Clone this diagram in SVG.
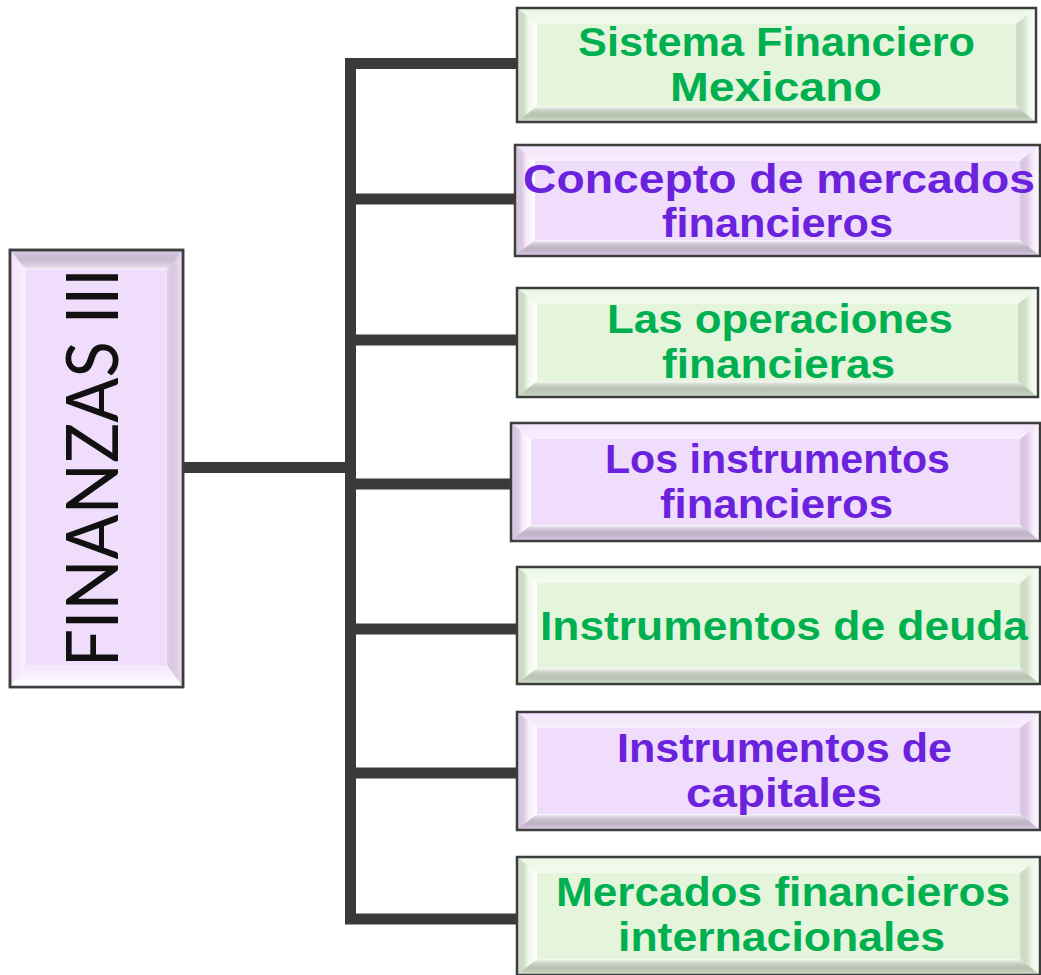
<svg xmlns="http://www.w3.org/2000/svg" width="1041" height="975" viewBox="0 0 1041 975">
<defs>
<linearGradient id="gL" x1="0" y1="0" x2="1" y2="0"><stop offset="0" stop-color="#000" stop-opacity="0.05"/><stop offset="0.55" stop-color="#fff" stop-opacity="0.4"/><stop offset="1" stop-color="#fff" stop-opacity="1"/></linearGradient>
<linearGradient id="gR" x1="0" y1="0" x2="1" y2="0"><stop offset="0" stop-color="#000" stop-opacity="0.09"/><stop offset="0.6" stop-color="#fff" stop-opacity="0.3"/><stop offset="1" stop-color="#fff" stop-opacity="0.95"/></linearGradient>
<linearGradient id="gT" x1="0" y1="0" x2="0" y2="1"><stop offset="0" stop-color="#fff" stop-opacity="0.2"/><stop offset="1" stop-color="#fff" stop-opacity="0.55"/></linearGradient>
<linearGradient id="gB" x1="0" y1="0" x2="0" y2="1"><stop offset="0" stop-color="#fff" stop-opacity="0.8"/><stop offset="1" stop-color="#000" stop-opacity="0.03"/></linearGradient>
<linearGradient id="gRootT" x1="0" y1="0" x2="0" y2="1"><stop offset="0" stop-color="#000" stop-opacity="0.04"/><stop offset="1" stop-color="#fff" stop-opacity="0.6"/></linearGradient>
<linearGradient id="gRootB" x1="0" y1="0" x2="0" y2="1"><stop offset="0" stop-color="#fff" stop-opacity="0.3"/><stop offset="1" stop-color="#fff" stop-opacity="0.95"/></linearGradient>
<linearGradient id="gRootL" x1="0" y1="0" x2="1" y2="0"><stop offset="0" stop-color="#fff" stop-opacity="0.2"/><stop offset="1" stop-color="#fff" stop-opacity="0.5"/></linearGradient>
<linearGradient id="gRootR" x1="0" y1="0" x2="1" y2="0"><stop offset="0" stop-color="#000" stop-opacity="0.06"/><stop offset="1" stop-color="#fff" stop-opacity="0.3"/></linearGradient>
</defs>
<style>
.green{fill:#e5f5dc}
.purple{fill:#f0dcfb}
.frame{stroke:#3d3d3d;stroke-width:2.5}
.bl{fill:url(#gL)}
.br{fill:url(#gR)}
.bt{fill:url(#gT)}
.bb{fill:url(#gB)}
.lbl{font-family:"Liberation Sans",Arial,sans-serif;font-weight:bold;font-size:41px;text-anchor:middle}
.tg{fill:#00b050}
.tp{fill:#6b22dc}
.conn{fill:none;stroke:#3a3a3a;stroke-width:11;stroke-linejoin:miter;stroke-linecap:butt}
.root{font-family:Lato,"Liberation Sans",sans-serif;font-weight:400;font-size:71px;fill:#111;text-anchor:middle}
</style>
<rect width="1041" height="975" fill="#fff"/>
<g id="connectors">
<path class="conn" d="M517,63.5 H350.5 V919 H517"/>
<path class="conn" d="M350,199 H515"/>
<path class="conn" d="M350,340 H517"/>
<path class="conn" d="M350,484 H511"/>
<path class="conn" d="M350,629 H517"/>
<path class="conn" d="M350,773 H517"/>
<path class="conn" d="M183,467.5 H356"/>
</g>
<g id="root">
<rect class="purple frame" x="10" y="250" width="173" height="437"/>
<polygon fill="url(#gRootT)" points="10,250 183,250 167,270 26,270"/>
<polygon fill="url(#gRootB)" points="10,687 26,665 167,665 183,687"/>
<polygon fill="url(#gRootL)" points="10,250 26,270 26,665 10,687"/>
<polygon fill="url(#gRootR)" points="167,270 183,250 183,687 167,665"/>
<rect fill="none" class="frame" x="10" y="250" width="173" height="437"/>
<text class="root" transform="translate(118,467.5) rotate(-90)" textLength="399" lengthAdjust="spacingAndGlyphs">FINANZAS III</text>
</g>
<g id="n1">
<rect class="green" x="517" y="8" width="519" height="114"/>
<polygon class="bl" points="517,8 537,24 537,106 517,122"/>
<polygon class="bt" points="517,8 1036,8 1016,24 537,24"/>
<polygon class="br" points="1016,24 1036,8 1036,122 1016,106"/>
<polygon class="bb" points="537,106 1016,106 1036,122 517,122"/>
<rect fill="none" class="frame" x="517" y="8" width="519" height="114"/>
<text class="lbl tg" x="776.5" y="56" textLength="397" lengthAdjust="spacingAndGlyphs">Sistema Financiero</text>
<text class="lbl tg" x="776" y="101" textLength="212" lengthAdjust="spacingAndGlyphs">Mexicano</text>
</g>
<g id="n2">
<rect class="purple" x="515" y="145" width="525" height="111"/>
<polygon class="bl" points="515,145 535,161 535,240 515,256"/>
<polygon class="bt" points="515,145 1040,145 1020,161 535,161"/>
<polygon class="br" points="1020,161 1040,145 1040,256 1020,240"/>
<polygon class="bb" points="535,240 1020,240 1040,256 515,256"/>
<rect fill="none" class="frame" x="515" y="145" width="525" height="111"/>
<text class="lbl tp" x="779" y="193" textLength="512" lengthAdjust="spacingAndGlyphs">Concepto de mercados</text>
<text class="lbl tp" x="777.5" y="237" textLength="231" lengthAdjust="spacingAndGlyphs">financieros</text>
</g>
<g id="n3">
<rect class="green" x="517" y="288" width="521" height="109"/>
<polygon class="bl" points="517,288 537,304 537,381 517,397"/>
<polygon class="bt" points="517,288 1038,288 1018,304 537,304"/>
<polygon class="br" points="1018,304 1038,288 1038,397 1018,381"/>
<polygon class="bb" points="537,381 1018,381 1038,397 517,397"/>
<rect fill="none" class="frame" x="517" y="288" width="521" height="109"/>
<text class="lbl tg" x="780" y="333" textLength="346" lengthAdjust="spacingAndGlyphs">Las operaciones</text>
<text class="lbl tg" x="778.5" y="378" textLength="233" lengthAdjust="spacingAndGlyphs">financieras</text>
</g>
<g id="n4">
<rect class="purple" x="511" y="423" width="529" height="118"/>
<polygon class="bl" points="511,423 531,439 531,525 511,541"/>
<polygon class="bt" points="511,423 1040,423 1020,439 531,439"/>
<polygon class="br" points="1020,439 1040,423 1040,541 1020,525"/>
<polygon class="bb" points="531,525 1020,525 1040,541 511,541"/>
<rect fill="none" class="frame" x="511" y="423" width="529" height="118"/>
<text class="lbl tp" x="777.5" y="473" textLength="345" lengthAdjust="spacingAndGlyphs">Los instrumentos</text>
<text class="lbl tp" x="776.5" y="518" textLength="233" lengthAdjust="spacingAndGlyphs">financieros</text>
</g>
<g id="n5">
<rect class="green" x="517" y="567" width="523" height="117"/>
<polygon class="bl" points="517,567 537,583 537,668 517,684"/>
<polygon class="bt" points="517,567 1040,567 1020,583 537,583"/>
<polygon class="br" points="1020,583 1040,567 1040,684 1020,668"/>
<polygon class="bb" points="537,668 1020,668 1040,684 517,684"/>
<rect fill="none" class="frame" x="517" y="567" width="523" height="117"/>
<text class="lbl tg" x="784" y="640" textLength="488" lengthAdjust="spacingAndGlyphs">Instrumentos de deuda</text>
</g>
<g id="n6">
<rect class="purple" x="517" y="712" width="523" height="118"/>
<polygon class="bl" points="517,712 537,728 537,814 517,830"/>
<polygon class="bt" points="517,712 1040,712 1020,728 537,728"/>
<polygon class="br" points="1020,728 1040,712 1040,830 1020,814"/>
<polygon class="bb" points="537,814 1020,814 1040,830 517,830"/>
<rect fill="none" class="frame" x="517" y="712" width="523" height="118"/>
<text class="lbl tp" x="784.5" y="762" textLength="335" lengthAdjust="spacingAndGlyphs">Instrumentos de</text>
<text class="lbl tp" x="784" y="807" textLength="196" lengthAdjust="spacingAndGlyphs">capitales</text>
</g>
<g id="n7">
<rect class="green" x="517" y="857" width="523" height="118"/>
<polygon class="bl" points="517,857 537,873 537,959 517,975"/>
<polygon class="bt" points="517,857 1040,857 1020,873 537,873"/>
<polygon class="br" points="1020,873 1040,857 1040,975 1020,959"/>
<polygon class="bb" points="537,959 1020,959 1040,975 517,975"/>
<rect fill="none" class="frame" x="517" y="857" width="523" height="118"/>
<text class="lbl tg" x="783" y="906" textLength="454" lengthAdjust="spacingAndGlyphs">Mercados financieros</text>
<text class="lbl tg" x="781.5" y="951" textLength="327" lengthAdjust="spacingAndGlyphs">internacionales</text>
</g>
</svg>
